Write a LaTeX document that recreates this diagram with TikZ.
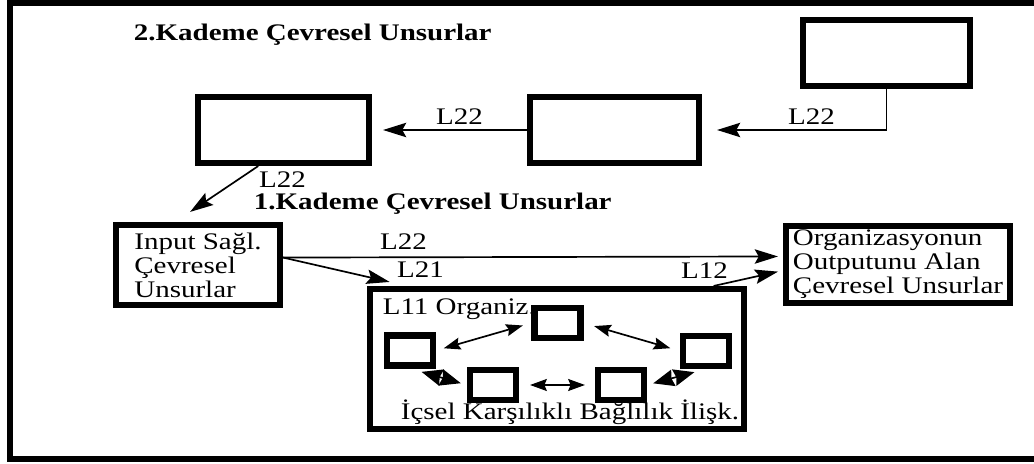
\documentclass[tikz,border=0pt]{standalone}
\usepackage{fontspec}
\setmainfont{Liberation Serif}[FakeStretch=1.22]
\usetikzlibrary{arrows.meta}

\begin{document}
\begin{tikzpicture}[x=0.025cm,y=-0.025cm,>={Stealth[length=0.58cm,width=0.36cm,inset=0.1cm]},line width=1.2pt,
                box node/.style={draw,line width=4.3pt,minimum width=4.225cm,minimum height=1.65cm,inner sep=0pt},
                small node/.style={draw,line width=4.3pt,minimum width=1.15cm,minimum height=0.75cm,inner sep=0pt},
                text node/.style={draw,line width=4.3pt,align=left,inner sep=0pt,font=\fontsize{16.9}{17.1}\selectfont},
                label node/.style={inner sep=0pt,font=\fontsize{16.9}{17.1}\selectfont},
                title node/.style={inner sep=0pt,anchor=base west,font=\bfseries\fontsize{16.9}{17.1}\selectfont},
                small arrow/.style={{Stealth[length=0.42cm,width=0.3cm,inset=0.06cm]}-{Stealth[length=0.42cm,width=0.3cm,inset=0.06cm]}},
                short arrow/.style={{Stealth[length=0.52cm,width=0.42cm,inset=0.05cm]}-{Stealth[length=0.52cm,width=0.42cm,inset=0.05cm]}}]
                \clip (0,0) rectangle (1034,464);
                \draw[line width=4.3pt] (10,3) rectangle (1060,459);

                % 2. kademe
                \node[title node] (k2) at (133,41) {2.Kademe Çevresel Unsurlar};
                \node[box node,minimum width=4.175cm] (A) at (886.5,53) {};
                \node[box node] (B) at (614.5,130) {};
                \node[box node,minimum width=4.275cm] (C) at (283.5,130) {};

                % 1. kademe
                \node[title node] (k1) at (253,210) {1.Kademe Çevresel Unsurlar};
                \node[text node,minimum width=4.1cm,minimum height=2cm] (in) at (198,265) {Input Sağl.\\Çevresel\\Unsurlar};
                \node[text node,minimum width=5.6cm,minimum height=1.925cm] (out) at (898,264.5) {Organizasyonun\\Outputunu Alan\\Çevresel Unsurlar};
                \node[box node,minimum width=9.35cm,minimum height=3.5cm] (org) at (557,359) {};

                % organizasyon ici
                \node[label node,anchor=base west] (l11) at (382,315) {L11 Organiz.};
                \node[small node] (t) at (557.5,323) {};
                \node[small node] (l) at (410,350.5) {};
                \node[small node] (r) at (706,351) {};
                \node[small node] (bl) at (493,385) {};
                \node[small node] (br) at (621,385) {};
                \node[label node,anchor=base west] (ics) at (400,420) {İçsel Karşılıklı Bağlılık İlişk.};

                % etiketler
                \node[label node,anchor=base] (e1) at (811.5,125) {L22};
                \node[label node,anchor=base] (e2) at (459.5,125) {L22};
                \node[label node,anchor=base] (e3) at (282.5,188) {L22};
                \node[label node,anchor=base] (e4) at (403.5,250) {L22};
                \node[label node,anchor=base] (e5) at (420.5,278) {L21};
                \node[label node,anchor=base] (e6) at (704.5,279) {L12};

                \draw[->,shorten >=0.375cm] (A.south) |- (B.east);
                \path[->]
                    (B.west) edge[shorten >=0.275cm] (C.east)
                    (C.235) edge[shorten >=0.45cm] (in.118)
                    (in.5) edge[shorten >=0.125cm] (out.176)
                    (in.5) edge[shorten >=0.45cm] (org.154)
                    (org.25) edge[shorten >=0.125cm] (out.183)
                    ;

                \path
                    (l.east) edge[small arrow,shorten <=0.2cm,shorten >=0.225cm] (t.west)
                    (t.east) edge[small arrow,shorten <=0.275cm,shorten >=0.25cm] (r.west)
                    (bl.east) edge[small arrow,shorten <=0.275cm,shorten >=0.25cm] (br.west)
                    (l.south) edge[short arrow,shorten <=0.3cm,shorten >=0.16cm] (bl.west)
                    (r.south) edge[short arrow,shorten <=0.3cm,shorten >=0.16cm] (br.east)
                    ;
            \end{tikzpicture}
\end{document}
